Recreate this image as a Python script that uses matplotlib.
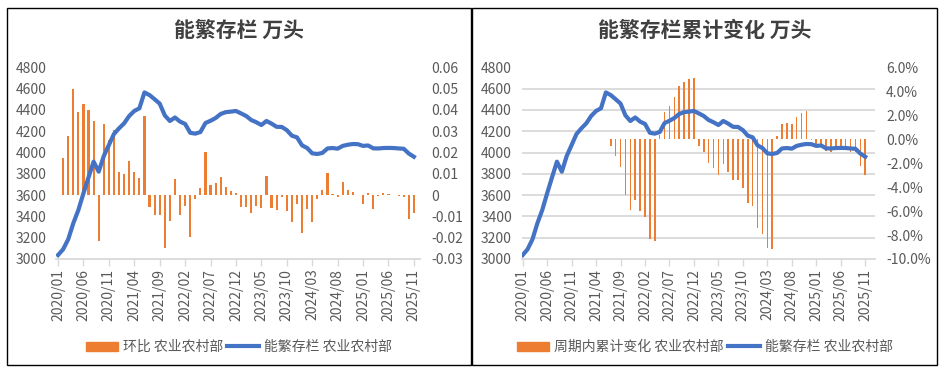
import numpy as np
from matplotlib import pyplot as plt
from matplotlib.patches import Rectangle, Patch
from matplotlib.lines import Line2D

plt.rcParams['font.family'] = ['Noto Sans CJK SC', 'DejaVu Sans']

# monthly, 2020/01 .. 2025/11
months = [f"{y}/{m:02d}" for y in range(2020, 2026) for m in range(1, 13)][:71]

# 能繁存栏, 万头
stock = [3037, 3091, 3185, 3335, 3460, 3617, 3767, 3914, 3820, 3967,
         4070, 4174, 4227, 4274, 4343, 4390, 4415, 4564, 4539, 4500,
         4459, 4348, 4296, 4329, 4290, 4268, 4185, 4177, 4192, 4277,
         4298, 4324, 4362, 4379, 4384, 4390, 4367, 4343, 4305, 4284,
         4258, 4296, 4271, 4241, 4240, 4210, 4158, 4142, 4067, 4042,
         3992, 3986, 3996, 4038, 4042, 4036, 4062, 4073, 4080, 4078,
         4062, 4066, 4039, 4038, 4042, 4043, 4042, 4038, 4035, 3990,
         3960]

# 环比
mom = [np.nan,
       0.0172, 0.0277, 0.0498, 0.0391, 0.0427, 0.0399, 0.0349, -0.0214, 0.0333, 0.026,
       0.0305, 0.0108, 0.0099, 0.016, 0.0108, 0.0081, 0.037,
       -0.0055, -0.0092, -0.0092, -0.0247, -0.012, 0.0075, -0.0092, -0.005, -0.0196, -0.002,
       0.0033, 0.0202, 0.0047, 0.0055, 0.0086, 0.0039, 0.002, 0.0008,
       -0.0055, -0.0055, -0.0086, -0.005, -0.006, 0.0089, -0.006, -0.007, -0.0008, -0.0074,
       -0.0125, -0.0042, -0.018, -0.0063, -0.0125, -0.0016, 0.0023, 0.0105, 0.0005, -0.0011,
       0.006, 0.0023, 0.0013, 0.0, -0.004, 0.001, -0.0067, -0.0005, 0.0008, 0.0005,
       0.0002, -0.0005, -0.0008, -0.011, -0.0083]

# 周期内累计变化, %
cum_pct = [np.nan] * 18 + [
    -0.55, -1.42, -2.3, -4.7, -5.9, -5.1, -6.0, -6.5, -8.3, -8.5,
    0.33, 2.3, 2.8, 3.5, 4.4, 4.8, 5.0, 5.1,
    -0.54, -1.04, -1.96, -2.4, -3.0, -2.1, -2.7, -3.4, -3.4, -4.1, -5.3, -5.6, -7.4, -7.9, -9.1, -9.2,
    0.25, 1.27, 1.36, 1.25, 1.85, 2.2, 2.34,
    -0.05, -0.43, -0.38, -1.0, -1.03, -0.93, -0.9, -0.93, -1.03, -1.1, -2.2, -3.0]

ORANGE = '#ED7D31'
BLUE = '#4472C4'
GRID = '#D9D9D9'
TXT = '#595959'

W, H = 942, 369
fig = plt.figure(figsize=(W / 100, H / 100), dpi=100)


def px_box(x0, y0, x1, y1):
    return [x0 / W, 1 - y1 / H, (x1 - x0) / W, (y1 - y0) / H]


x = np.arange(len(months))
tick_pos = x[::5]
tick_lab = [months[i] for i in tick_pos]


def make_panel(box, xlim, bars, bar_w, lo2, hi2, step2, fmt2):
    ax = fig.add_axes(box)
    ax2 = ax.twinx()
    ax.set_zorder(ax2.get_zorder() + 1)
    ax.patch.set_visible(False)

    ax2.bar(x, bars, width=bar_w, color=ORANGE, zorder=2)
    ax.plot(x, stock, color=BLUE, lw=3, solid_joinstyle='round')

    ax.set_xlim(*xlim)
    ax.set_ylim(3000, 4800)
    ax.set_yticks(np.arange(3000, 4801, 200))
    ax2.set_ylim(lo2, hi2)
    t2 = np.arange(lo2, hi2 + step2 / 2, step2)
    ax2.set_yticks(t2, [fmt2(v) for v in t2])
    # gridlines follow the left axis, drawn behind the bars
    ax2.set_yticks(np.linspace(lo2, hi2, 10), minor=True)
    ax2.yaxis.grid(True, which='minor', color=GRID, lw=1.3, zorder=0)
    ax2.set_axisbelow(True)

    ax.set_xticks(tick_pos, tick_lab, rotation=90)
    ax.tick_params(axis='x', length=5, width=1, color=GRID, labelcolor=TXT,
                   labelsize=10, pad=2)
    ax.tick_params(axis='y', length=0, labelcolor=TXT, labelsize=10, pad=7)
    ax2.tick_params(axis='y', which='both', length=0, labelcolor=TXT,
                    labelsize=10, pad=8)
    for s in ['top', 'left', 'right']:
        ax.spines[s].set_visible(False)
    for s in ax2.spines.values():
        s.set_visible(False)
    ax.spines['bottom'].set_color(GRID)
    ax.spines['bottom'].set_linewidth(1.3)
    return ax, ax2


def fmt_plain(v):
    v = round(v, 2)
    return '0' if v == 0 else f"{v:g}"


make_panel(px_box(56, 67.3, 420, 259), (-0.4, 71.2), mom, 0.42,
           -0.03, 0.06, 0.01, fmt_plain)
make_panel(px_box(521.7, 67.3, 875, 259), (-0.2, 72.0), cum_pct, 0.32,
           -10, 6, 2, lambda v: f"{v:.1f}%")

# panel frames
for x0, x1 in [(7, 471), (472, 937)]:
    fig.add_artist(Rectangle((x0 / W, 1 - 365 / H), (x1 - x0) / W, 357 / H,
                             transform=fig.transFigure, fill=False,
                             ec='black', lw=1))

fig.text(239 / W, 1 - 30 / H, '能繁存栏 万头', ha='center', va='center',
         fontsize=15, fontweight='bold', color='#404040')
fig.text(705 / W, 1 - 30 / H, '能繁存栏累计变化 万头', ha='center', va='center',
         fontsize=15, fontweight='bold', color='#404040')

for cx, lab in [(239, '环比 农业农村部'), (705, '周期内累计变化 农业农村部')]:
    fig.legend(handles=[Patch(color=ORANGE), Line2D([], [], color=BLUE, lw=3)],
               labels=[lab, '能繁存栏 农业农村部'], loc='center',
               bbox_to_anchor=(cx / W, 1 - 347 / H), ncol=2, frameon=False,
               fontsize=10, handlelength=2.3, handleheight=0.6,
               handletextpad=0.35, columnspacing=0.3, labelcolor=TXT)

fig.savefig('out.png', dpi=100)
